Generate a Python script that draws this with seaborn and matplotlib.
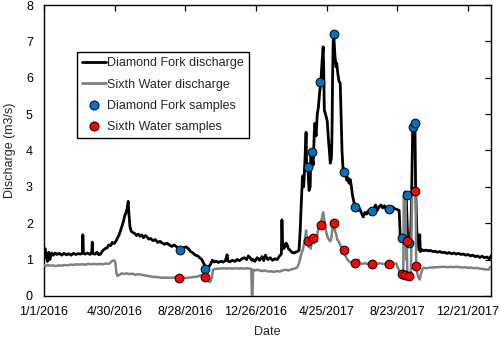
import numpy as np
import pandas as pd
import matplotlib
matplotlib.use("Agg")
import matplotlib.pyplot as plt
import seaborn as sns
from matplotlib.lines import Line2D

START = pd.Timestamp("2016-01-01")

# Diamond Fork discharge (days since 1/1/2016, m3/s)
DF_DAYS = [0, 2, 4, 6, 8, 10, 13, 16, 19, 22, 26, 30, 34, 38, 42, 46, 50, 54, 58, 62, 65, 66, 67, 70, 74, 78,
           81, 82, 83, 87, 90, 93, 96, 100, 104, 107, 110, 113, 116, 119, 122, 125, 128, 131, 134, 137, 139,
           141, 143, 144, 146, 148, 151, 154, 157, 160, 163, 166, 169, 172, 175, 178, 181, 185, 189, 193, 197,
           201, 205, 209, 213, 217, 221, 225, 229, 233, 237, 241, 245, 249, 253, 257, 261, 265, 268, 271, 274,
           277, 280, 283, 286, 289, 292, 296, 300, 304, 308, 311, 312, 316, 320, 324, 328, 332, 336, 340, 344,
           347, 350, 353, 355, 358, 362, 366, 370, 373, 376, 380, 384, 388, 392, 396, 400, 403, 404, 405, 407,
           409, 411, 413, 415, 418, 421, 424, 427, 430, 433, 435, 437, 439, 441, 443, 445, 446, 448, 450, 452,
           453, 455, 457, 459, 460, 462, 464, 466, 468, 470, 472, 474, 475, 476, 478, 481, 483, 485, 486, 488,
           489, 490, 491, 492, 494, 496, 497, 499, 501, 503, 505, 506, 508, 509, 511, 513, 514, 516, 518, 520,
           522, 524, 526, 528, 530, 533, 536, 539, 542, 545, 548, 551, 554, 557, 560, 563, 566, 569, 572, 575,
           578, 581, 584, 586, 589, 592, 595, 599, 603, 605, 608, 610, 612, 613, 614, 615, 617, 618, 620, 622,
           624, 626, 627, 628, 629, 630, 631, 633, 635, 637, 638, 639, 641, 644, 648, 652, 656, 660, 664, 668,
           672, 676, 680, 684, 688, 692, 696, 700, 704, 708, 712, 716, 720, 724, 728, 732, 736, 740, 744, 748,
           752, 756, 759]
DF_Q = [1.26, 1.30, 1.05, 0.95, 1.20, 1.00, 1.18, 1.12, 1.18, 1.14, 1.17, 1.12, 1.17, 1.13, 1.16, 1.12, 1.17,
        1.14, 1.16, 1.15, 1.17, 1.68, 1.18, 1.15, 1.18, 1.14, 1.20, 1.48, 1.16, 1.15, 1.20, 1.13, 1.15, 1.25,
        1.30, 1.32, 1.40, 1.38, 1.47, 1.44, 1.50, 1.60, 1.70, 1.85, 2.00, 2.20, 2.28, 2.40, 2.60, 2.30, 1.90,
        1.78, 1.74, 1.72, 1.66, 1.70, 1.64, 1.68, 1.60, 1.66, 1.62, 1.56, 1.58, 1.52, 1.55, 1.47, 1.50, 1.45,
        1.42, 1.45, 1.40, 1.36, 1.40, 1.35, 1.30, 1.27, 1.32, 1.35, 1.30, 1.22, 1.18, 1.12, 1.10, 1.04, 1.00,
        0.90, 0.80, 0.72, 0.80, 0.88, 0.98, 0.93, 0.96, 0.92, 0.95, 0.93, 0.97, 1.13, 0.96, 0.94, 0.98, 0.95,
        1.00, 0.97, 1.02, 1.05, 1.00, 1.10, 1.05, 0.98, 1.00, 0.95, 1.05, 0.98, 1.08, 0.97, 1.12, 1.00, 1.05,
        0.98, 1.02, 1.00, 1.10, 1.15, 2.09, 1.50, 1.30, 1.35, 1.45, 1.40, 1.30, 1.25, 1.20, 1.18, 1.20, 1.22,
        1.25, 1.80, 2.60, 3.30, 3.00, 3.70, 4.50, 3.50, 3.55, 2.90, 3.00, 3.90, 3.95, 3.60, 4.50, 4.75, 4.40,
        5.00, 5.20, 5.60, 5.88, 6.40, 6.85, 6.20, 5.10, 5.00, 4.80, 4.30, 3.90, 3.65, 3.80, 4.40, 6.00, 7.00,
        7.20, 6.60, 6.30, 6.40, 6.10, 5.90, 5.85, 4.60, 4.00, 3.40, 3.50, 3.30, 3.45, 3.18, 3.25, 3.10, 3.20,
        3.00, 2.75, 2.60, 2.44, 2.45, 2.35, 2.40, 2.28, 2.17, 2.30, 2.25, 2.35, 2.30, 2.34, 2.40, 2.50, 2.35,
        2.45, 2.50, 2.42, 2.48, 2.38, 2.42, 2.39, 2.42, 2.45, 2.40, 2.38, 2.35, 1.62, 1.59, 1.55, 1.50, 2.86,
        2.80, 2.77, 1.80, 1.50, 1.46, 1.45, 2.50, 4.60, 4.70, 4.80, 4.75, 4.50, 3.00, 1.80, 1.50, 1.26, 1.68,
        1.22, 1.28, 1.24, 1.26, 1.24, 1.25, 1.22, 1.23, 1.20, 1.22, 1.19, 1.20, 1.17, 1.19, 1.16, 1.18, 1.15,
        1.17, 1.14, 1.15, 1.12, 1.14, 1.10, 1.12, 1.08, 1.10, 1.06, 1.09, 1.05, 1.07, 1.02, 1.10]

# Sixth Water discharge
SW_DAYS = [0, 3, 6, 10, 15, 20, 25, 30, 35, 40, 45, 50, 55, 60, 65, 70, 75, 80, 85, 90, 95, 100, 105, 110,
           113, 116, 119, 121, 123, 125, 128, 132, 136, 140, 145, 150, 155, 160, 165, 170, 175, 180, 185, 190,
           195, 200, 205, 210, 215, 220, 225, 230, 235, 240, 245, 250, 255, 260, 265, 270, 273, 276, 279, 282,
           285, 287, 290, 295, 300, 305, 310, 315, 320, 325, 330, 335, 340, 345, 350, 352, 353, 354, 355, 358,
           362, 366, 370, 375, 380, 385, 390, 395, 400, 405, 410, 415, 420, 425, 430, 433, 436, 440, 443, 445,
           447, 449, 451, 453, 455, 457, 459, 461, 463, 465, 467, 470, 472, 474, 476, 478, 480, 482, 484, 486,
           488, 490, 492, 494, 496, 498, 500, 503, 506, 509, 512, 515, 518, 521, 524, 528, 531, 534, 536, 540,
           545, 550, 555, 560, 565, 570, 575, 580, 585, 590, 595, 598, 600, 603, 606, 608, 610, 611, 612, 614,
           615, 616, 617, 619, 621, 623, 625, 627, 629, 631, 632, 634, 636, 638, 640, 643, 646, 650, 655, 660,
           665, 670, 675, 680, 685, 690, 695, 700, 705, 710, 715, 720, 725, 730, 735, 740, 745, 750, 755, 758]
SW_Q = [0.85, 0.82, 0.85, 0.83, 0.84, 0.82, 0.84, 0.83, 0.85, 0.84, 0.86, 0.85, 0.87, 0.86, 0.87, 0.86, 0.88,
        0.87, 0.88, 0.87, 0.88, 0.87, 0.89, 0.88, 0.92, 0.96, 0.98, 0.93, 0.62, 0.55, 0.58, 0.62, 0.60, 0.62,
        0.60, 0.61, 0.58, 0.60, 0.58, 0.57, 0.55, 0.54, 0.52, 0.52, 0.51, 0.50, 0.50, 0.50, 0.50, 0.50, 0.50,
        0.49, 0.50, 0.49, 0.50, 0.51, 0.52, 0.53, 0.56, 0.57, 0.55, 0.50, 0.40, 0.38, 0.50, 0.72, 0.74, 0.75,
        0.75, 0.76, 0.75, 0.76, 0.75, 0.76, 0.75, 0.76, 0.75, 0.76, 0.75, 0.74, 0.00, 0.00, 0.72, 0.70, 0.72,
        0.70, 0.68, 0.70, 0.67, 0.68, 0.66, 0.68, 0.67, 0.70, 0.72, 0.70, 0.73, 0.75, 0.78, 0.90, 1.10, 1.30,
        1.55, 1.80, 1.50, 1.35, 1.50, 1.30, 1.55, 1.60, 1.45, 1.65, 1.50, 1.80, 1.95, 2.00, 2.15, 2.30, 2.10,
        1.85, 1.70, 1.60, 1.55, 1.50, 1.60, 1.90, 2.02, 1.80, 1.70, 1.55, 1.50, 1.40, 1.30, 1.25, 1.10, 1.00,
        0.95, 0.92, 0.90, 0.90, 0.88, 1.00, 0.90, 0.88, 0.90, 0.87, 0.89, 0.88, 0.87, 0.90, 0.88, 0.87, 0.88,
        0.88, 0.88, 0.90, 0.80, 0.70, 0.62, 0.60, 0.62, 2.77, 2.80, 2.70, 1.00, 1.50, 0.60, 0.56, 0.55, 0.60,
        2.80, 2.85, 2.88, 2.85, 0.85, 0.60, 0.50, 0.45, 0.60, 0.75, 0.77, 0.76, 0.78, 0.78, 0.79, 0.79, 0.80,
        0.80, 0.79, 0.80, 0.79, 0.80, 0.79, 0.78, 0.79, 0.77, 0.78, 0.76, 0.77, 0.75, 0.74, 0.73, 0.72, 0.80]

# Samples
DF_S_DAYS = [231, 273, 448, 455, 469, 492, 509, 528, 557, 586, 608, 616, 620, 627, 630]
DF_S_Q = [1.27, 0.74, 3.55, 3.95, 5.88, 7.20, 3.40, 2.44, 2.34, 2.39, 1.59, 2.77, 1.46, 4.65, 4.75]
SW_S_DAYS = [229, 273, 448, 457, 470, 492, 509, 528, 557, 586, 608, 613, 620, 616, 630, 631]
SW_S_Q = [0.49, 0.52, 1.51, 1.60, 1.95, 2.00, 1.26, 0.90, 0.88, 0.88, 0.60, 0.58, 0.55, 1.50, 2.88, 0.82]

TICK_DAYS = [0, 120, 240, 360, 480, 600, 720]


def to_dates(days):
    return START + pd.to_timedelta(np.asarray(days), unit="D")


sns.set_style("white")
plt.rcParams["font.family"] = ["Liberation Sans", "DejaVu Sans"]

df_line = pd.DataFrame({"date": to_dates(DF_DAYS), "q": DF_Q})
sw_line = pd.DataFrame({"date": to_dates(SW_DAYS), "q": SW_Q})
df_s = pd.DataFrame({"date": to_dates(DF_S_DAYS), "q": DF_S_Q})
sw_s = pd.DataFrame({"date": to_dates(SW_S_DAYS), "q": SW_S_Q})

FS = 9

fig = plt.figure(figsize=(5.0, 3.37), dpi=100)
ax = fig.add_axes([0.088, 0.122, 0.894, 0.863])

sns.lineplot(data=df_line, x="date", y="q", ax=ax, color="black", lw=2.0, zorder=2)
sns.lineplot(data=sw_line, x="date", y="q", ax=ax, color="#808080", lw=1.8, zorder=3)
sns.scatterplot(data=df_s, x="date", y="q", ax=ax, color="#0070C0", edgecolor="black",
                linewidth=0.7, s=40, zorder=4)
sns.scatterplot(data=sw_s, x="date", y="q", ax=ax, color="#FF0000", edgecolor="black",
                linewidth=0.7, s=40, zorder=5)

ax.set_xlim(START, START + pd.Timedelta(days=759))
ax.set_ylim(0, 8)
ticks = to_dates(TICK_DAYS)
ax.set_xticks(ticks)
ax.set_xticklabels([f"{d.month}/{d.day}/{d.year}" for d in ticks], fontsize=FS)
ax.set_yticks(range(0, 9))
ax.set_yticklabels([str(v) for v in range(0, 9)], fontsize=FS)
ax.tick_params(direction="in", top=True, right=True, length=4, width=0.9, colors="black",
               labeltop=False, labelright=False)
ax.tick_params(axis="x", pad=7)
ax.tick_params(axis="y", pad=8)
for s in ax.spines.values():
    s.set_visible(True)
    s.set_color("black")
    s.set_linewidth(1.0)

ax.set_xlabel("Date", fontsize=FS, labelpad=6)
ax.set_ylabel("Discharge (m3/s)", fontsize=FS, labelpad=7)

handles = [
    Line2D([], [], color="black", lw=2.0),
    Line2D([], [], color="#808080", lw=2.0),
    Line2D([], [], ls="", marker="o", markersize=6.5, markerfacecolor="#0070C0",
           markeredgecolor="black", markeredgewidth=0.7),
    Line2D([], [], ls="", marker="o", markersize=6.5, markerfacecolor="#FF0000",
           markeredgecolor="black", markeredgewidth=0.7),
]
labels = ["Diamond Fork discharge", "Sixth Water discharge", "Diamond Fork samples", "Sixth Water samples"]
leg = ax.legend(handles, labels, loc="upper left", bbox_to_anchor=(0.074, 0.838), fontsize=FS,
                frameon=True, fancybox=False, edgecolor="black", framealpha=1,
                handlelength=1.9, handletextpad=0.1, labelspacing=0.75, borderpad=0.4,
                borderaxespad=0)
leg.get_frame().set_linewidth(1.0)

fig.savefig("out.png", dpi=100)
